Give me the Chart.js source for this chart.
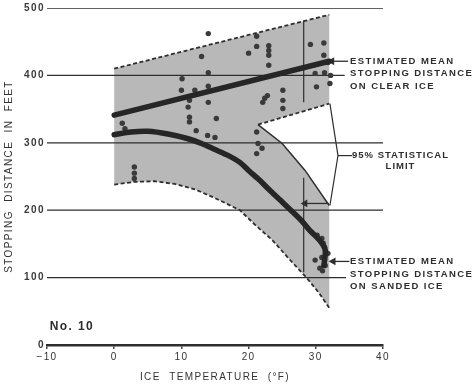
<!DOCTYPE html>
<html>
<head>
<meta charset="utf-8">
<script src="https://cdn.jsdelivr.net/npm/chart.js@4.4.0/dist/chart.umd.min.js"></script>
<style>
  body { margin: 0; background: #fff; }
  canvas { display: block; }
</style>
</head>
<body>
<canvas id="chart" width="475" height="390"></canvas>
<script>
// axis ticks
var temp_ticks = [-10, 0, 10, 20, 30, 40];
var dist_ticks = [0, 100, 200, 300, 400, 500];

// measured stopping distances
var clear_temp = [1.2, 1.6, 10.1, 10.0, 11.2, 11.0, 11.2, 11.2, 12.0, 13.0, 14.0, 14.0, 14.0, 14.0, 15.2, 20.0, 21.2, 21.2, 22.1, 22.4, 22.8, 23.0, 23.0, 23.0, 23.0, 25.1, 25.1, 25.1, 29.2, 29.9, 30.1, 31.2, 31.2, 31.3, 31.8, 32.1, 32.2];
var clear_dist = [329, 321, 395, 378, 363, 353, 338, 331, 378, 428, 462, 404, 384, 360, 336, 433, 458, 443, 360, 366, 370, 444, 437, 430, 415, 378, 363, 351, 446, 403, 383, 448, 430, 404, 419, 388, 400];
var sand_temp = [3.0, 3.0, 3.0, 12.2, 13.9, 15.0, 21.2, 21.4, 21.2, 22.0, 30.2, 30.9, 31.1, 31.3, 31.8, 30.9, 29.9, 31.3, 31.4, 30.6, 31.0];
var sand_dist = [264, 255, 247, 318, 311, 308, 316, 299, 284, 292, 163, 158, 151, 145, 136, 130, 126, 126, 118, 114, 110];

// estimated means
var clear_mean_temp = [0, 32];
var clear_mean_dist = [341, 421];
var sand_mean_temp = [0, 2.5, 5, 8, 11, 13, 15, 17, 18.7, 20, 21.7, 23, 24.7, 26.6, 28, 29.1, 30.6, 31.4, 31.2];
var sand_mean_dist = [312, 316, 317, 313, 306, 299, 290, 281, 271, 259, 244, 231, 215, 197, 183, 170, 155, 141, 118];

// 95% statistical limits
var clear_high_temp = [0, 32];
var clear_high_dist = [410, 490];
var clear_low_temp = [21.4, 32];
var clear_low_dist = [327, 358];
var sand_high_temp = [21.4, 25, 28.4, 32];
var sand_high_dist = [327, 299, 259, 207];
var sand_low_temp = [0, 3, 6, 9, 12, 15, 18.7, 21, 23.6, 26, 28.7, 30.5, 32];
var sand_low_dist = [238, 242, 243, 239, 231, 218, 200, 178, 155, 128, 99, 77, 55];

// reference lines and callouts
var rule_dist = [100, 200, 300, 400, 500];
var rule_end = [34.5, 40, 40, 34.3, 40];
var limit_temp = 28.2;
var clear_limit_dist = [481, 360];
var sand_limit_dist = [248, 108];
var bracket_temp = [32.1, 33.3, 32.1];
var bracket_dist = [358, 281, 207];
var leader_temp = [33.3, 35.4];
var leader_dist = [281, 281];
var arrow95_temp = [28.4, 31.9];
var arrow95_dist = [210, 210];
var clear_arrow_temp = [32.4, 34.8];
var clear_arrow_dist = [421, 421];
var sand_arrow_temp = [32.6, 35.0];
var sand_arrow_dist = [124, 124];

var clear_label = ["ESTIMATED MEAN", "STOPPING DISTANCE", "ON CLEAR ICE"];
var clear_label_at = [35.1, 421];
var sand_label = ["ESTIMATED MEAN", "STOPPING DISTANCE", "ON SANDED ICE"];
var sand_label_at = [35.1, 124];
var limit_label = ["95% STATISTICAL", "LIMIT"];
var limit_label_at = [42.6, 281];
var plate_label = "No. 10";
var plate_label_at = [-9.6, 27];

var ink = "#2e2e2e";
var font_family = "'Liberation Sans', Arial, sans-serif";

var to_points = function(xs, ys) {
  return xs.map((x, i) => ({x: x, y: ys[i]}));
};

var rev = function(a) { return a.slice().reverse(); };

// shaded band: upper edge, notch, lower edge
var band_temp = [].concat(clear_high_temp, rev(clear_low_temp), sand_high_temp.slice(1), rev(sand_low_temp));
var band_dist = [].concat(clear_high_dist, rev(clear_low_dist), sand_high_dist.slice(1), rev(sand_low_dist));

var edge = function(xs, ys, dash, width, order) {
  return {
    data: to_points(xs, ys),
    borderColor: ink,
    borderWidth: width,
    borderDash: dash,
    pointRadius: 0,
    fill: false,
    order: order
  };
};

var arrow = function(xs, ys) {
  return {
    data: to_points(xs, ys),
    borderColor: ink,
    backgroundColor: ink,
    borderWidth: 1.3,
    pointRadius: [3.2, 0],
    pointStyle: "triangle",
    pointRotation: -90,
    order: 3
  };
};

var datasets = [];

datasets.push({
  data: to_points(band_temp, band_dist),
  borderWidth: 0,
  backgroundColor: "#b8b8b8",
  pointRadius: 0,
  fill: "shape",
  order: 20
});

rule_dist.forEach(function(d, i) {
  datasets.push(edge([-10, rule_end[i]], [d, d], [], 1.3, 15));
});

datasets.push(edge(clear_high_temp, clear_high_dist, [4, 2.5], 1.8, 6));
datasets.push(edge(clear_low_temp, clear_low_dist, [4, 2.5], 1.8, 6));
datasets.push(edge(sand_high_temp, sand_high_dist, [], 1.5, 6));
datasets.push(edge(sand_low_temp, sand_low_dist, [4, 2.5], 1.8, 6));

datasets.push(edge([limit_temp, limit_temp], clear_limit_dist, [], 1.2, 5));
datasets.push(edge([limit_temp, limit_temp], sand_limit_dist, [], 1.2, 5));
datasets.push(edge(bracket_temp, bracket_dist, [], 1.2, 5));
datasets.push(edge(leader_temp, leader_dist, [], 1.2, 5));
datasets.push(arrow(arrow95_temp, arrow95_dist));
datasets.push(arrow(clear_arrow_temp, clear_arrow_dist));
datasets.push(arrow(sand_arrow_temp, sand_arrow_dist));

datasets.push({
  data: to_points(clear_temp, clear_dist),
  showLine: false,
  pointRadius: 2.7,
  pointBorderWidth: 0,
  pointBackgroundColor: "#3a3a3a",
  order: 2
});
datasets.push({
  data: to_points(sand_temp, sand_dist),
  showLine: false,
  pointRadius: 2.7,
  pointBorderWidth: 0,
  pointBackgroundColor: "#3a3a3a",
  order: 2
});

datasets.push({
  data: to_points(clear_mean_temp, clear_mean_dist),
  borderColor: "#262626",
  borderWidth: 5.5,
  borderCapStyle: "round",
  pointRadius: 0,
  order: 1
});
datasets.push({
  data: to_points(sand_mean_temp, sand_mean_dist),
  borderColor: "#262626",
  borderWidth: 5.5,
  borderCapStyle: "round",
  tension: 0.3,
  pointRadius: 0,
  order: 1
});

var draw_texts = {
  id: "draw_texts",
  beforeUpdate: function(chart) {
    chart.ctx.letterSpacing = "1.4px";
  },
  beforeDraw: function(chart) {
    chart.ctx.letterSpacing = "1.4px";
  },
  afterDraw: function(chart) {
    let ctx = chart.ctx;
    let sx = chart.scales.x;
    let sy = chart.scales.y;
    ctx.save();
    ctx.fillStyle = ink;
    ctx.textBaseline = "middle";
    ctx.font = "bold 9.5px " + font_family;
    ctx.textAlign = "left";
    clear_label.forEach(function(line, i) {
      ctx.fillText(line, sx.getPixelForValue(clear_label_at[0]), sy.getPixelForValue(clear_label_at[1]) + i * 12.5);
    });
    sand_label.forEach(function(line, i) {
      ctx.fillText(line, sx.getPixelForValue(sand_label_at[0]), sy.getPixelForValue(sand_label_at[1]) + i * 12.5);
    });
    ctx.textAlign = "center";
    ctx.letterSpacing = "1px";
    limit_label.forEach(function(line, i) {
      ctx.fillText(line, sx.getPixelForValue(limit_label_at[0]), sy.getPixelForValue(limit_label_at[1]) + i * 11);
    });
    ctx.letterSpacing = "1.4px";
    ctx.textAlign = "left";
    ctx.font = "bold 12px " + font_family;
    ctx.fillText(plate_label, sx.getPixelForValue(plate_label_at[0]), sy.getPixelForValue(plate_label_at[1]));
    ctx.restore();
  }
};

var chart = new Chart("chart", {
  type: "line",
  data: {
    datasets: datasets
  },
  options: {
    responsive: false,
    animation: false,
    layout: {
      padding: { top: 8, right: 92, left: 0, bottom: 0 }
    },
    plugins: {
      legend: { display: false },
      tooltip: { enabled: false }
    },
    scales: {
      x: {
        type: "linear",
        min: temp_ticks[0],
        max: temp_ticks[temp_ticks.length - 1],
        afterBuildTicks: function(scale) {
          scale.ticks = temp_ticks.map(v => ({value: v}));
        },
        afterFit: function(scale) { scale.height = 45; },
        ticks: {
          padding: 2,
          color: "#333",
          font: { size: 10, family: font_family },
          callback: function(v) { return v < 0 ? "\u2212" + Math.abs(v) : "" + v; }
        },
        grid: { drawOnChartArea: false, tickLength: 4, color: "#444", lineWidth: 1.5 },
        border: { display: true, color: "#2e2e2e", width: 2.5 },
        title: {
          display: true,
          text: "ICE  TEMPERATURE  (\u00B0F)",
          color: "#333",
          font: { size: 10, family: font_family },
          padding: { top: 0, bottom: 7 }
        }
      },
      y: {
        min: dist_ticks[0],
        max: dist_ticks[dist_ticks.length - 1],
        afterBuildTicks: function(scale) {
          scale.ticks = dist_ticks.map(v => ({value: v}));
        },
        afterFit: function(scale) { scale.width = 47; },
        ticks: {
          padding: 2,
          color: "#3a3a3a",
          font: { size: 10, weight: "bold", family: font_family }
        },
        grid: { display: false, drawTicks: false },
        border: { display: false },
        title: {
          display: true,
          text: "STOPPING  DISTANCE  IN  FEET",
          color: "#333",
          font: { size: 10, family: font_family },
          padding: { top: 3, bottom: 0 }
        }
      }
    }
  },
  plugins: [draw_texts]
});
</script>
</body>
</html>
